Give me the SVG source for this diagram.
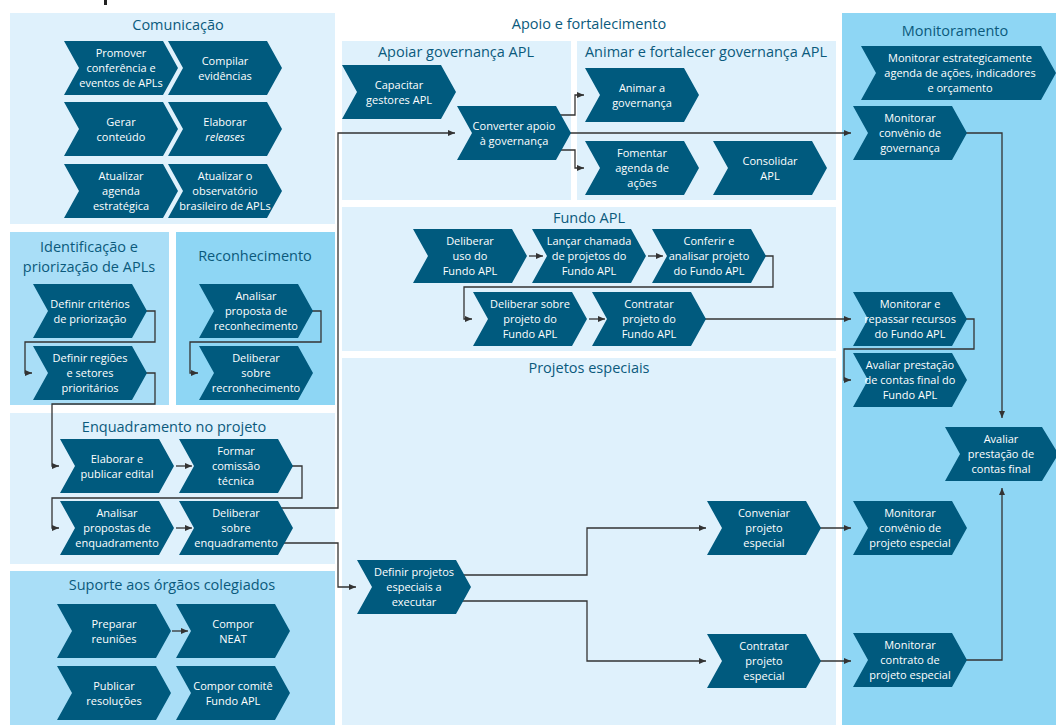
<svg xmlns="http://www.w3.org/2000/svg" xmlns:xlink="http://www.w3.org/1999/xlink" width="1056" height="725" viewBox="0 0 1056 725">
<style>
.pl{fill:#dff1fc}
.pm{fill:#a9def7}
.pd{fill:#8ed6f4}
.ttl{font-family:"Open Sans","Noto Sans","Liberation Sans",sans-serif;font-size:14.5px;fill:#0b5a7c;text-anchor:middle}
.nd{fill:#005a7e}
.nt{font-family:"Open Sans","Noto Sans","Liberation Sans",sans-serif;font-size:11px;fill:#ffffff;text-anchor:middle}
.cn{fill:none;stroke:#333333;stroke-width:1.3}
</style>
<defs>
<path id="chev" d="M0,0 H99 L114,27 L99,54 H0 L15,27 Z"/>
<marker id="ah" markerUnits="userSpaceOnUse" markerWidth="8" markerHeight="7" refX="7" refY="3" orient="auto">
<path d="M0,0 L7,3 L0,6 Z" fill="#333333"/>
</marker>
</defs>
<rect width="1056" height="725" fill="#ffffff"/>
<rect x="104" y="0" width="3" height="5" fill="#222222"/>

<g id="panels">
<rect class="pl" x="10" y="13" width="325" height="211"/>
<rect class="pm" x="10" y="232" width="159" height="173"/>
<rect class="pd" x="176" y="232" width="159" height="173"/>
<rect class="pl" x="10" y="413" width="325" height="151"/>
<rect class="pm" x="10" y="571" width="325" height="154"/>
<rect class="pl" x="342" y="41" width="229" height="159"/>
<rect class="pl" x="577" y="41" width="259" height="159"/>
<rect class="pl" x="342" y="207" width="494" height="144"/>
<rect class="pl" x="342" y="358" width="494" height="367"/>
<rect class="pd" x="842" y="13" width="214" height="712"/>
</g>

<g id="titles">
<text class="ttl" x="178" y="30">Comunicação</text>
<text class="ttl" x="89" y="252">Identificação e</text>
<text class="ttl" x="89" y="272">priorização de APLs</text>
<text class="ttl" x="255" y="261">Reconhecimento</text>
<text class="ttl" x="174" y="432">Enquadramento no projeto</text>
<text class="ttl" x="172" y="590">Suporte aos órgãos colegiados</text>
<text class="ttl" x="589" y="29">Apoio e fortalecimento</text>
<text class="ttl" x="456" y="57">Apoiar governança APL</text>
<text class="ttl" x="706" y="57">Animar e fortalecer governança APL</text>
<text class="ttl" x="589" y="223">Fundo APL</text>
<text class="ttl" x="589" y="373">Projetos especiais</text>
<text class="ttl" x="955" y="36">Monitoramento</text>
</g>

<g id="connectors" class="cn" marker-end="url(#ah)">
<path d="M140,311 H155 V342 H25 V373 H32"/>
<path d="M140,373 H155 V404 H52 V466 H59"/>
<path d="M306,311 H321 V342 H190 V373 H198"/>
<path d="M176,466 H192"/>
<path d="M286,466 H302 V498 H52 V528 H59"/>
<path d="M176,528 H192"/>
<path d="M270,508 H338 V133 H455"/>
<path d="M270,543 H338 V587 H356"/>
<path d="M172,631 H188"/>
<path d="M550,115 H575 V95 H584"/>
<path d="M550,150 H575 V168 H584"/>
<path d="M560,133 H851"/>
<path d="M529,256 H543"/>
<path d="M648,256 H663"/>
<path d="M755,256 H773 V287 H464 V319 H472"/>
<path d="M589,319 H605"/>
<path d="M700,319 H851"/>
<path d="M440,575 H587 V528 H706"/>
<path d="M440,601 H587 V661 H706"/>
<path d="M810,528 H851"/>
<path d="M810,661 H851"/>
<path d="M950,133 H1002 V418"/>
<path d="M950,319 H974 V349 H844 V380 H851"/>
<path d="M950,660 H1002 V488"/>
</g>

<g id="n-promover"><use xlink:href="#chev" href="#chev" class="nd" x="64" y="41"/><text class="nt"><tspan x="121" y="57">Promover</tspan><tspan x="121" y="72">conferência e</tspan><tspan x="121" y="87">eventos de APLs</tspan></text></g>
<g id="n-compilar"><use xlink:href="#chev" href="#chev" class="nd" x="168" y="41"/><text class="nt"><tspan x="225" y="64.5">Compilar</tspan><tspan x="225" y="79.5">evidências</tspan></text></g>
<g id="n-gerar"><use xlink:href="#chev" href="#chev" class="nd" x="64" y="102"/><text class="nt"><tspan x="121" y="125.5">Gerar</tspan><tspan x="121" y="140.5">conteúdo</tspan></text></g>
<g id="n-elaborar-rel"><use xlink:href="#chev" href="#chev" class="nd" x="168" y="102"/><text class="nt"><tspan x="225" y="125.5">Elaborar</tspan><tspan x="225" y="140.5" font-style="italic">releases</tspan></text></g>
<g id="n-atualizar-agenda"><use xlink:href="#chev" href="#chev" class="nd" x="64" y="164"/><text class="nt"><tspan x="121" y="180">Atualizar</tspan><tspan x="121" y="195">agenda</tspan><tspan x="121" y="210">estratégica</tspan></text></g>
<g id="n-atualizar-obs"><use xlink:href="#chev" href="#chev" class="nd" x="168" y="164"/><text class="nt"><tspan x="225" y="180">Atualizar o</tspan><tspan x="225" y="195">observatório</tspan><tspan x="225" y="210">brasileiro de APLs</tspan></text></g>

<g id="n-criterios"><use xlink:href="#chev" href="#chev" class="nd" x="33" y="284"/><text class="nt"><tspan x="90" y="307.5">Definir critérios</tspan><tspan x="90" y="322.5">de priorização</tspan></text></g>
<g id="n-regioes"><use xlink:href="#chev" href="#chev" class="nd" x="33" y="346"/><text class="nt"><tspan x="90" y="362">Definir regiões</tspan><tspan x="90" y="377">e setores</tspan><tspan x="90" y="392">prioritários</tspan></text></g>
<g id="n-analisar-rec"><use xlink:href="#chev" href="#chev" class="nd" x="199" y="284"/><text class="nt"><tspan x="256" y="300">Analisar</tspan><tspan x="256" y="315">proposta de</tspan><tspan x="256" y="330">reconhecimento</tspan></text></g>
<g id="n-deliberar-rec"><use xlink:href="#chev" href="#chev" class="nd" x="199" y="346"/><text class="nt"><tspan x="256" y="362">Deliberar</tspan><tspan x="256" y="377">sobre</tspan><tspan x="256" y="392">recronhecimento</tspan></text></g>

<g id="n-edital"><use xlink:href="#chev" href="#chev" class="nd" x="60" y="439"/><text class="nt"><tspan x="117" y="462.5">Elaborar e</tspan><tspan x="117" y="477.5">publicar edital</tspan></text></g>
<g id="n-comissao"><use xlink:href="#chev" href="#chev" class="nd" x="179" y="439"/><text class="nt"><tspan x="236" y="455">Formar</tspan><tspan x="236" y="470">comissão</tspan><tspan x="236" y="485">técnica</tspan></text></g>
<g id="n-analisar-enq"><use xlink:href="#chev" href="#chev" class="nd" x="60" y="501"/><text class="nt"><tspan x="117" y="517">Analisar</tspan><tspan x="117" y="532">propostas de</tspan><tspan x="117" y="547">enquadramento</tspan></text></g>
<g id="n-deliberar-enq"><use xlink:href="#chev" href="#chev" class="nd" x="179" y="501"/><text class="nt"><tspan x="236" y="517">Deliberar</tspan><tspan x="236" y="532">sobre</tspan><tspan x="236" y="547">enquadramento</tspan></text></g>

<g id="n-preparar"><use xlink:href="#chev" href="#chev" class="nd" x="57" y="604"/><text class="nt"><tspan x="114" y="627.5">Preparar</tspan><tspan x="114" y="642.5">reuniões</tspan></text></g>
<g id="n-neat"><use xlink:href="#chev" href="#chev" class="nd" x="176" y="604"/><text class="nt"><tspan x="233" y="627.5">Compor</tspan><tspan x="233" y="642.5">NEAT</tspan></text></g>
<g id="n-publicar"><use xlink:href="#chev" href="#chev" class="nd" x="57" y="666"/><text class="nt"><tspan x="114" y="689.5">Publicar</tspan><tspan x="114" y="704.5">resoluções</tspan></text></g>
<g id="n-comite"><use xlink:href="#chev" href="#chev" class="nd" x="176" y="666"/><text class="nt"><tspan x="233" y="689.5">Compor comitê</tspan><tspan x="233" y="704.5">Fundo APL</tspan></text></g>

<g id="n-capacitar"><use xlink:href="#chev" href="#chev" class="nd" x="342" y="65"/><text class="nt"><tspan x="399" y="88.5">Capacitar</tspan><tspan x="399" y="103.5">gestores APL</tspan></text></g>
<g id="n-converter"><use xlink:href="#chev" href="#chev" class="nd" x="457" y="106"/><text class="nt"><tspan x="514" y="129.5">Converter apoio</tspan><tspan x="514" y="144.5">à governança</tspan></text></g>
<g id="n-animar"><use xlink:href="#chev" href="#chev" class="nd" x="585" y="68"/><text class="nt"><tspan x="642" y="91.5">Animar a</tspan><tspan x="642" y="106.5">governança</tspan></text></g>
<g id="n-fomentar"><use xlink:href="#chev" href="#chev" class="nd" x="585" y="141"/><text class="nt"><tspan x="642" y="157">Fomentar</tspan><tspan x="642" y="172">agenda de</tspan><tspan x="642" y="187">ações</tspan></text></g>
<g id="n-consolidar"><use xlink:href="#chev" href="#chev" class="nd" x="713" y="141"/><text class="nt"><tspan x="770" y="164.5">Consolidar</tspan><tspan x="770" y="179.5">APL</tspan></text></g>

<g id="n-deliberar-uso"><use xlink:href="#chev" href="#chev" class="nd" x="413" y="229"/><text class="nt"><tspan x="470" y="245">Deliberar</tspan><tspan x="470" y="260">uso do</tspan><tspan x="470" y="275">Fundo APL</tspan></text></g>
<g id="n-lancar"><use xlink:href="#chev" href="#chev" class="nd" x="532" y="229"/><text class="nt"><tspan x="589" y="245">Lançar chamada</tspan><tspan x="589" y="260">de projetos do</tspan><tspan x="589" y="275">Fundo APL</tspan></text></g>
<g id="n-conferir"><use xlink:href="#chev" href="#chev" class="nd" x="652" y="229"/><text class="nt"><tspan x="709" y="245">Conferir e</tspan><tspan x="709" y="260">analisar projeto</tspan><tspan x="709" y="275">do Fundo APL</tspan></text></g>
<g id="n-deliberar-proj"><use xlink:href="#chev" href="#chev" class="nd" x="473" y="292"/><text class="nt"><tspan x="530" y="308">Deliberar sobre</tspan><tspan x="530" y="323">projeto do</tspan><tspan x="530" y="338">Fundo APL</tspan></text></g>
<g id="n-contratar-fundo"><use xlink:href="#chev" href="#chev" class="nd" x="592" y="292"/><text class="nt"><tspan x="649" y="308">Contratar</tspan><tspan x="649" y="323">projeto do</tspan><tspan x="649" y="338">Fundo APL</tspan></text></g>

<g id="n-definir-proj"><use xlink:href="#chev" href="#chev" class="nd" x="357" y="560"/><text class="nt"><tspan x="414" y="576">Definir projetos</tspan><tspan x="414" y="591">especiais a</tspan><tspan x="414" y="606">executar</tspan></text></g>
<g id="n-conveniar"><use xlink:href="#chev" href="#chev" class="nd" x="707" y="501"/><text class="nt"><tspan x="764" y="517">Conveniar</tspan><tspan x="764" y="532">projeto</tspan><tspan x="764" y="547">especial</tspan></text></g>
<g id="n-contratar-esp"><use xlink:href="#chev" href="#chev" class="nd" x="707" y="634"/><text class="nt"><tspan x="764" y="650">Contratar</tspan><tspan x="764" y="665">projeto</tspan><tspan x="764" y="680">especial</tspan></text></g>

<g id="n-mon-estrat"><polygon class="nd" points="861,46 1041,46 1056,73 1041,100 861,100 876,73"/><text class="nt"><tspan x="960" y="62">Monitorar estrategicamente</tspan><tspan x="960" y="77">agenda de ações, indicadores</tspan><tspan x="960" y="92">e orçamento</tspan></text></g>
<g id="n-mon-gov"><use xlink:href="#chev" href="#chev" class="nd" x="853" y="106"/><text class="nt"><tspan x="910" y="122">Monitorar</tspan><tspan x="910" y="137">convênio de</tspan><tspan x="910" y="152">governança</tspan></text></g>
<g id="n-mon-repassar"><use xlink:href="#chev" href="#chev" class="nd" x="853" y="292"/><text class="nt"><tspan x="910" y="308">Monitorar e</tspan><tspan x="910" y="323">repassar recursos</tspan><tspan x="910" y="338">do Fundo APL</tspan></text></g>
<g id="n-avaliar-fundo"><use xlink:href="#chev" href="#chev" class="nd" x="853" y="353"/><text class="nt"><tspan x="910" y="369">Avaliar prestação</tspan><tspan x="910" y="384">de contas final do</tspan><tspan x="910" y="399">Fundo APL</tspan></text></g>
<g id="n-avaliar-final"><polygon class="nd" points="945,427 1042,427 1056,450 1056,458 1042,481 945,481 960,454"/><text class="nt"><tspan x="1001" y="443">Avaliar</tspan><tspan x="1001" y="458">prestação de</tspan><tspan x="1001" y="473">contas final</tspan></text></g>
<g id="n-mon-conv-esp"><use xlink:href="#chev" href="#chev" class="nd" x="853" y="501"/><text class="nt"><tspan x="910" y="517">Monitorar</tspan><tspan x="910" y="532">convênio de</tspan><tspan x="910" y="547">projeto especial</tspan></text></g>
<g id="n-mon-contrato"><use xlink:href="#chev" href="#chev" class="nd" x="853" y="633"/><text class="nt"><tspan x="910" y="649">Monitorar</tspan><tspan x="910" y="664">contrato de</tspan><tspan x="910" y="679">projeto especial</tspan></text></g>
</svg>
